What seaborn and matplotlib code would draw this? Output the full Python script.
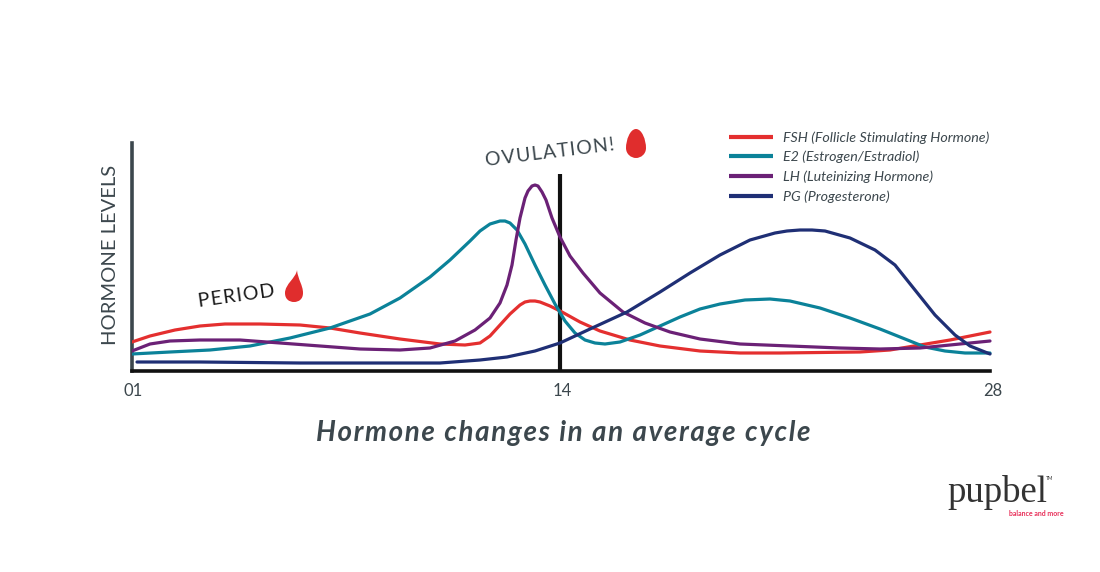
import pandas as pd
import seaborn as sns
import matplotlib.pyplot as plt
from matplotlib.path import Path
from matplotlib.patches import PathPatch
from matplotlib.transforms import Affine2D

# positions along the cycle axis and levels
fsh_x = [0, 18, 43, 68, 93, 128, 168, 198, 228, 268, 308, 333, 348, 358, 368, 378, 388, 393, 398, 403, 408, 418, 430, 448, 468, 498, 528, 568, 608, 648, 688, 728, 758, 788, 818, 858]
fsh_y = [29, 35, 41, 45, 47, 47, 46, 43, 38, 32, 27, 26, 28, 35, 46, 57, 66, 69, 70, 70, 69, 65, 59, 49, 40, 31, 25, 20, 18, 18, 18.5, 19, 21, 26, 31, 39]
e2_x = [0, 38, 78, 118, 158, 198, 238, 268, 298, 318, 338, 348, 358, 368, 373, 378, 385, 393, 403, 413, 423, 433, 443, 453, 463, 473, 488, 508, 528, 548, 568, 588, 613, 638, 658, 688, 718, 748, 773, 793, 813, 833, 858]
e2_y = [17, 19, 21, 25, 33, 43, 57, 73, 94, 111, 130, 140, 147, 150, 150, 148, 141, 127, 106, 86, 67, 50, 38, 31, 28, 27, 29, 36, 45, 54, 62, 67, 71, 72, 70, 63, 53, 42, 32, 24, 20, 18, 18]
lh_x = [0, 18, 38, 68, 108, 148, 188, 228, 268, 298, 323, 343, 358, 368, 375, 380, 384, 388, 393, 396, 400, 403, 406, 410, 414, 420, 428, 438, 451, 468, 491, 513, 538, 568, 608, 658, 708, 748, 788, 828, 858]
lh_y = [20, 27, 30, 31, 31, 28, 25, 22, 21, 23, 30, 41, 53, 68, 86, 106, 131, 153, 173, 180, 185, 186, 185, 179, 171, 153, 134, 115, 98, 78, 59, 48, 39, 32, 27, 25, 23, 22, 23, 27, 30]
pg_x = [5, 68, 168, 308, 348, 375, 403, 428, 458, 495, 528, 558, 588, 618, 643, 655, 668, 680, 693, 718, 743, 763, 783, 803, 823, 838, 858]
pg_y = [9, 9, 8, 8, 11, 14, 20, 28, 42, 59, 79, 98, 116, 131, 138, 140, 141, 141, 140, 133, 121, 106, 81, 56, 36, 25, 17]

hormones = [
    "FSH (Follicle Stimulating Hormone)",
    "E2 (Estrogen/Estradiol)",
    "LH (Luteinizing Hormone)",
    "PG (Progesterone)",
]
colores = ["#E42F2F", "#0B8299", "#6B2176", "#1F2F75"]
tick_pos = [1, 430, 861]
tick_labels = ["01", "14", "28"]
ovulation_pos = 428

GRIS = "#3C474D"


def espaciar(texto):
    # letter spacing with hair spaces
    return "\u200a".join(texto)


filas = []
for nombre, xs, ys in zip(hormones, [fsh_x, e2_x, lh_x, pg_x], [fsh_y, e2_y, lh_y, pg_y]):
    filas.append(pd.DataFrame({"pos": xs, "nivel": ys, "hormona": nombre}))
df = pd.concat(filas, ignore_index=True)

sns.set_style("white")
plt.rcParams["font.family"] = ["Lato", "DejaVu Sans"]

fig = plt.figure(figsize=(11, 5.72), dpi=100)
ax = fig.add_axes([132 / 1100, 1 - 371 / 572, 870 / 1100, 228 / 572])
ax.patch.set_alpha(0)

# everything placed outside the axes uses picture pixels
px = Affine2D().scale(1, -1).translate(0, 572)

ax.plot([ovulation_pos, ovulation_pos], [0, 197], color="#111111", lw=3, solid_capstyle="butt", zorder=2)

sns.lineplot(data=df, x="pos", y="nivel", hue="hormona", hue_order=hormones,
             palette=colores, sort=False, estimator=None, lw=2.3, ax=ax, zorder=3)
for linea in ax.get_lines():
    linea.set_solid_joinstyle("round")

ax.set_xlabel("")
ax.set_ylabel("")
ax.set_yticks([])
ax.set_xticks(tick_pos)
ax.set_xticklabels(tick_labels, fontsize=12, color=GRIS)
ax.tick_params(axis="x", length=0, pad=9)
ax.set_xlim(0, 870)
ax.set_ylim(0, 228)
sns.despine(ax=ax)
ax.spines["left"].set_color(GRIS)
ax.spines["left"].set_linewidth(2.6)
ax.spines["bottom"].set_color("#111111")
ax.spines["bottom"].set_linewidth(2.6)
ax.spines["bottom"].set_bounds(0, 858)

leg = ax.legend(loc="upper left", bbox_to_anchor=(729, 131), bbox_transform=px, frameon=False,
                title=None, fontsize=10.3, handlelength=3.05, handletextpad=0.7,
                labelspacing=0.5, borderpad=0, borderaxespad=0)
for linea in leg.get_lines():
    linea.set_linewidth(3)
    linea.set_solid_capstyle("butt")
for t in leg.get_texts():
    t.set_color(GRIS)
    t.set_fontstyle("italic")

fig.text(110, 255, "HORMONE LEVELS", transform=px, rotation=90, fontsize=14.5, color=GRIS,
         ha="center", va="center")
fig.text(236, 296, espaciar("PERIOD"), transform=px, rotation=8, fontsize=14, color="#1A1A1A",
         ha="center", va="center", rotation_mode="anchor")
fig.text(550, 153, espaciar("OVULATION!"), transform=px, rotation=7, fontsize=14, color=GRIS,
         ha="center", va="center", rotation_mode="anchor")
fig.text(563, 433, espaciar("Hormone changes in an average cycle"), transform=px, fontsize=20, color=GRIS,
         fontweight="bold", fontstyle="italic", ha="center", va="center")

# logo
fig.text(997, 492, "pupbel", transform=px, family="Liberation Serif", fontsize=26.5, color="#333333",
         ha="center", va="center")
fig.text(1050, 479, "TM", transform=px, fontsize=3.5, color="#333333", ha="center", va="center")
fig.text(1036, 513, "balance and more", transform=px, fontsize=5, color="#E8305A", fontweight="bold",
         ha="center", va="center")

# drops
codes_gota = [Path.MOVETO] + [Path.CURVE4] * 12
periodo = [(297, 270), (296, 278), (285, 284), (285, 293), (285, 299), (289, 302), (294, 302),
           (299, 302), (303, 299), (303, 293), (303, 285), (298, 280), (297, 270)]
huevo = [(636, 129), (630, 129), (626, 140), (626, 148), (626, 154), (631, 158), (636, 158),
         (641, 158), (646, 154), (646, 148), (646, 140), (642, 129), (636, 129)]
for verts in (periodo, huevo):
    fig.add_artist(PathPatch(Path(verts, codes_gota), facecolor="#E02D2D", edgecolor="none", transform=px))

fig.savefig("out.png", dpi=100)
plt.close(fig)
